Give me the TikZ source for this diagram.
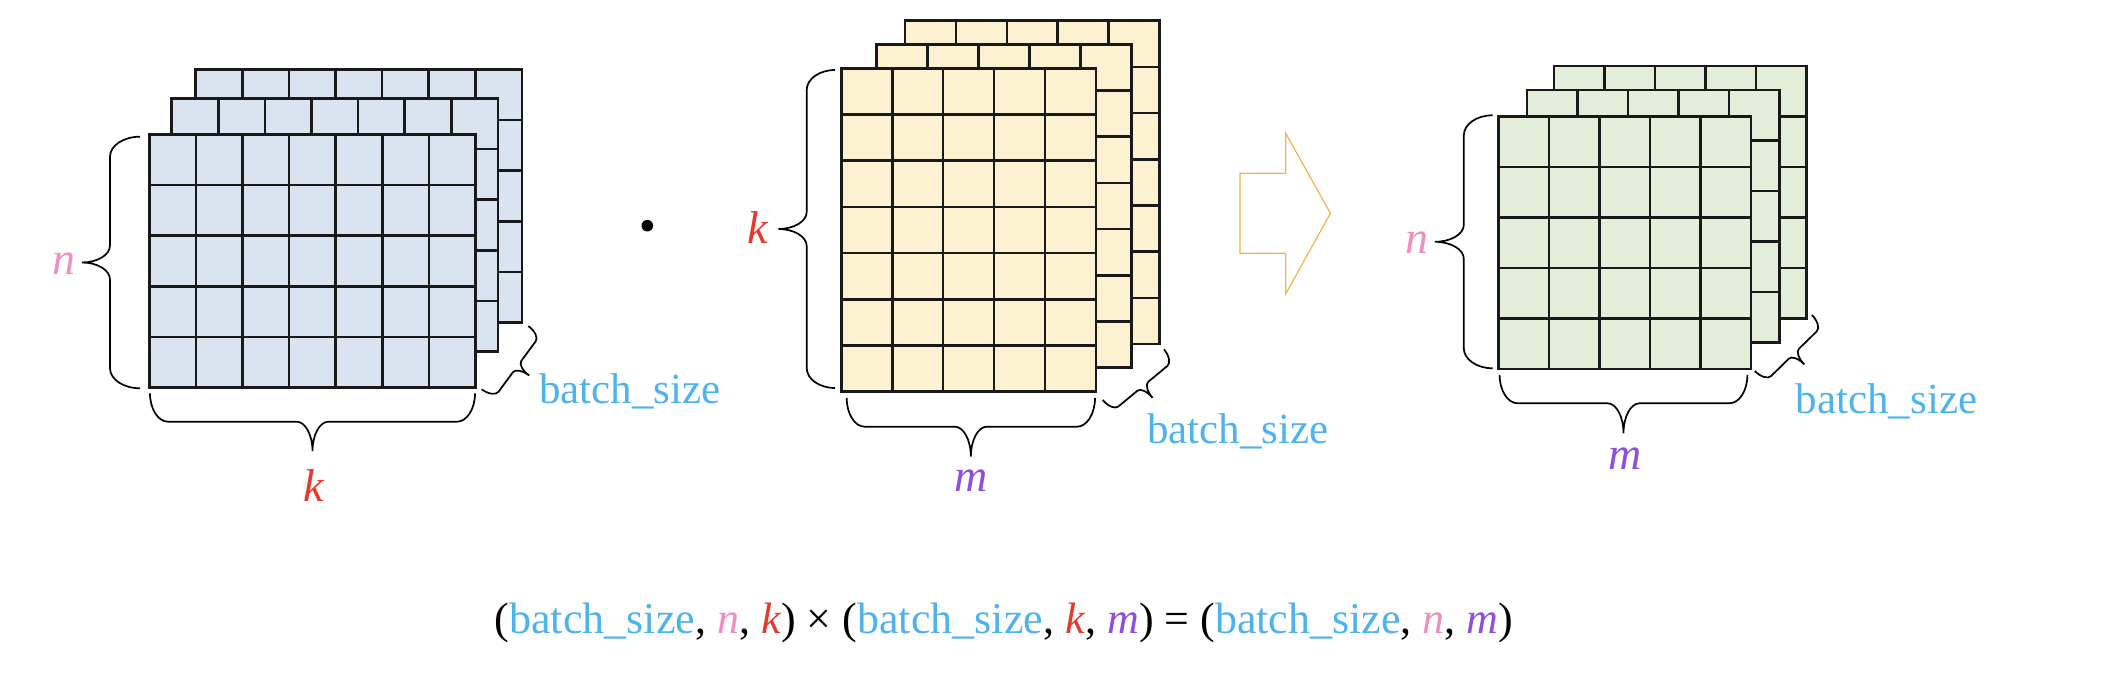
\documentclass[tikz,border=0pt]{standalone}
\usepackage{fontspec}
\setmainfont{Liberation Serif}
\usetikzlibrary{calc}
\definecolor{bsz}{HTML}{4EB3EC}
\definecolor{nc}{HTML}{EE8FC2}
\definecolor{kc}{HTML}{E8372B}
\definecolor{mc}{HTML}{8C4FDF}
\definecolor{arrc}{HTML}{F7B14C}
\definecolor{fillA}{HTML}{DAE3F0}
\definecolor{fillB}{HTML}{FCF1D1}
\definecolor{fillC}{HTML}{E3EFDA}
% name, left, top, cols, rows, cell width, cell height, fill
\newcommand\mlayer[8]{%
  \node[mlayerbox, fill=#8, minimum width={#4*#6*0.5pt}, minimum height={#5*#7*0.5pt}] (#1) at (#2,-#3) {};
  \pgfmathtruncatemacro\mlc{#4-1}%
  \pgfmathtruncatemacro\mlr{#5-1}%
  \foreach \i in {1,...,\mlc} \draw[gridline] ($(#1.north west)+(\i*#6,0)$) -- ($(#1.south west)+(\i*#6,0)$);
  \foreach \j in {1,...,\mlr} \draw[gridline] ($(#1.north west)+(0,-\j*#7)$) -- ($(#1.north east)+(0,-\j*#7)$);
  \draw[gridline] (#1.north west) rectangle (#1.south east);
}
% start x, start y (down), angle, length, hook depth, tip depth, hook radius, tip radius
\newcommand\cbrace[8]{%
  \draw[bracestyle, shift={(#1,-#2)}, rotate=#3]
    (0,0) .. controls (0,{-0.552*#5}) and ({0.448*#7},-#5) .. (#7,-#5)
    -- ({#4/2-#8},-#5) .. controls ({#4/2-0.448*#8},-#5) and ({#4/2},{-#5-0.448*#6}) .. ({#4/2},{-#5-#6})
    .. controls ({#4/2},{-#5-0.448*#6}) and ({#4/2+0.448*#8},-#5) .. ({#4/2+#8},-#5)
    -- ({#4-#7},-#5) .. controls ({#4-0.448*#7},-#5) and (#4,{-0.552*#5}) .. (#4,0);
}
\begin{document}
\begin{tikzpicture}[x=0.5pt,y=0.5pt,
  mlayerbox/.style={draw=none, inner sep=0pt, outer sep=0pt, anchor=north west},
  gridline/.style={draw=black!90, line width=1.3pt},
  bracestyle/.style={draw=black, line width=0.85pt},
  lbl/.style={font=\fontsize{23}{27}\selectfont\itshape, anchor=base, inner sep=0pt},
  bslbl/.style={font=\fontsize{21.5}{26}\selectfont, text=bsz, anchor=base, inner sep=0pt}]
\path[use as bounding box] (0,0) rectangle (2106,-678);

% matrix A
\mlayer{A3}{195.7}{69.3}{7}{5}{46.6}{50.7}{fillA}
\mlayer{A2}{171.7}{98.3}{7}{5}{46.6}{50.7}{fillA}
\mlayer{A1}{149.3}{134.3}{7}{5}{46.6}{50.7}{fillA}
% matrix B
\mlayer{B3}{905}{20.7}{5}{7}{50.9}{46.2}{fillB}
\mlayer{B2}{876.7}{44.3}{5}{7}{50.9}{46.2}{fillB}
\mlayer{B1}{841.3}{68.3}{5}{7}{50.9}{46.2}{fillB}
% matrix C
\mlayer{C3}{1553.8}{66}{5}{5}{50.5}{50.5}{fillC}
\mlayer{C2}{1527}{90}{5}{5}{50.5}{50.5}{fillC}
\mlayer{C1}{1498.6}{116.7}{5}{5}{50.5}{50.5}{fillC}

% braces
\cbrace{140}{136.7}{-90}{251.6}{30}{28}{20}{17}
\cbrace{150}{393.3}{0}{325}{28.4}{29.3}{18}{16}
\cbrace{481.7}{389.3}{53.6}{78.6}{15}{15}{8}{7}
\cbrace{835}{70}{-90}{318}{28.3}{28.4}{20}{17}
\cbrace{846.7}{398}{0}{248.3}{28.7}{30}{18}{16}
\cbrace{1102.7}{400}{39.6}{79.5}{15}{15}{8}{7}
\cbrace{1492.6}{115.3}{-90}{253}{28.8}{28.9}{20}{17}
\cbrace{1499.6}{375}{0}{247.8}{28.3}{30}{18}{16}
\cbrace{1754.8}{371}{44.4}{80}{15}{15}{8}{7}

% labels
\node[lbl, text=nc] (nA) at (64,-275) {n};
\node[lbl, text=kc] (kA) at (313.3,-501.7) {k};
\node[bslbl] (bA) at (630,-404) {batch\_size};
\node[lbl, text=kc] (kB) at (757.8,-243.3) {k};
\node[lbl, text=mc] (mB) at (971,-492) {m};
\node[bslbl] (bB) at (1238,-444) {batch\_size};
\node[lbl, text=nc] (nC) at (1416.5,-253.3) {n};
\node[lbl, text=mc] (mC) at (1625.5,-470) {m};
\node[bslbl] (bC) at (1886.5,-413.3) {batch\_size};

% dot
\node[circle, fill=black, inner sep=0pt, minimum size=5.8pt] (dot) at (647.3,-225.7) {};

% arrow
\draw[arrc, line width=0.6pt, line join=miter]
  (1239.9,-173.3) -- (1285.7,-173.3) -- (1285.7,-133.3) -- (1330.4,-213.3)
  -- (1285.7,-294) -- (1285.7,-253.3) -- (1239.9,-253.3) -- cycle;

% equation
\node[font=\fontsize{22}{26}\selectfont, anchor=base, inner sep=0pt] (eq) at (1004,-633.3)
  {(\textcolor{bsz}{batch\_size}, \textcolor{nc}{\textit{n}}, \textcolor{kc}{\textit{k}}) × (\textcolor{bsz}{batch\_size}, \textcolor{kc}{\textit{k}}, \textcolor{mc}{\textit{m}}) = (\textcolor{bsz}{batch\_size}, \textcolor{nc}{\textit{n}}, \textcolor{mc}{\textit{m}})};
\end{tikzpicture}
\end{document}
